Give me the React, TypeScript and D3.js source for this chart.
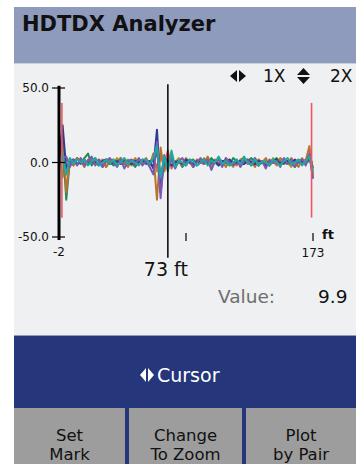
import React from 'react';
import * as d3 from 'd3';

const W = 356;
const H = 464;
const FONT = '"DejaVu Sans", Verdana, sans-serif';

// axis + labels
const yTicks = [50, 0, -50];
const yTickLabels = ['50.0', '0.0', '-50.0'];
const xTickFeet = [85.5, 173];
const xEndLabels = ['-2', '173'];
const cursorFeet = 73;
const cursorLabel = '73 ft';
const markerFeet = [0, 172];
const markerRange = [40, -37];
const valueLabel = 'Value:';
const valueText = '9.9';
const buttonLabels = [['Set', 'Mark'], ['Change', 'To Zoom'], ['Plot', 'by Pair']];

// sample grid in feet, one value per sample
const sampleFeet = d3.range(-2, 173.01, 2.5);

const olive = [12, -10, 3, 0, -2, 3, 1, -2, 0, 3, -1, 2, 0, -3, 1, 0, 3, -1, 0, 2, -2, 3, 0, -1, 2, 0, 4, -6, 3, 0, 2, -2, 0, 3, -1, 0, 2, -3, 1, 0, 3, 0, -2, 1, 0, -2, 3, 0, -3, 1, 0, 2, -1, 0, 3, -2, 0, 1, -2, 3, 0, -1, 2, 0, -3, 1, 0, 3, -1, 4, -3];
const red = [0, 2, -3, 1, 0, -1, 1, 0, -1, 1, 0, 1, -1, 0, 2, -1, 0, 1, -1, 0, 1, -1, 0, 1, 0, -1, 2, -3, 4, -2, 8, -4, 1, 0, -1, 1, 0, -1, 1, 0, -1, 1, 0, 2, -1, 0, 1, -1, 0, 1, 0, -1, 1, 0, -1, 2, 0, -1, 1, 0, -1, 1, 0, -1, 1, 0, 2, -1, 0, 1, 0];
const green = [2, 14, -25, 1, 0, 3, -1, 3, 6, -2, 1, 0, -3, 2, 1, -2, 0, 3, -1, 1, 0, -3, 1, 0, 2, -1, 2, 6, -8, 1, 0, 3, -1, 1, -3, 0, 1, 2, -2, 0, 1, -1, 3, 0, -2, 1, 0, -2, 3, 1, 0, -1, 1, 3, 0, -2, 1, 0, -2, 1, 3, 0, -1, 1, 0, -3, 1, 0, 2, 5, -10];
const brown = [4, 22, -20, 2, -2, 3, 1, -3, 2, 0, 3, -1, 2, -3, 1, 2, -2, 3, 0, -3, 1, 2, -1, 0, 3, -2, 6, -25, 10, -6, 2, 5, -3, 1, -2, 3, 0, -3, 2, 1, -1, 4, -2, 0, 2, 1, -3, 2, 0, -2, 2, 3, -1, 1, -3, 2, 0, 3, -2, 1, -2, 3, 1, -1, 3, 0, -3, 2, 1, 11, -8];
const navy = [0, 25, -5, 1, 2, -1, 0, 2, -1, 1, 0, -2, 1, 2, -1, 0, 1, -1, 2, 0, -1, 1, 0, 2, -1, 1, -4, 22, -20, 3, 1, -2, 0, 1, -1, 2, 0, -1, 1, 0, 2, -1, 0, 1, -2, 1, 0, 2, -1, 0, 1, -1, 2, 0, -1, 1, 0, -2, 1, 0, 2, -1, 0, 1, -1, 2, 0, 1, -1, 3, -4];
const purple = [1, 3, 4, -3, 2, -2, 3, -2, 1, 4, -2, 2, -3, 1, 3, 0, -3, 2, -4, 1, 2, -2, 3, -2, 1, -3, -8, 14, -24, 5, -3, 2, -4, 1, 3, -2, 2, -3, 0, 3, -1, 2, -5, 1, 2, -3, 3, 0, -2, 2, -3, 1, 2, -2, 3, -2, 1, -4, 2, 0, 1, -3, 3, -1, 2, -3, 1, 2, -2, 6, -11];
const teal = [0, 6, -8, 3, -1, 2, 0, 2, -2, 1, 3, -2, 0, 2, -1, 2, -2, 0, 3, -1, 1, 0, -2, 2, 2, -1, 3, 11, -10, 4, -6, 8, -3, 1, 0, -2, 2, 1, -2, 0, 2, -2, 1, 0, 4, -1, 1, -2, 0, 2, -1, 4, 0, -2, 2, -2, 1, 0, -2, 2, 0, -2, 1, 3, -1, 0, 2, -2, 1, 4, -6];

const traces = [
  { values: olive, color: '#a49a2c' },
  { values: red, color: '#e8545c' },
  { values: green, color: '#1f8a55' },
  { values: brown, color: '#b8742f' },
  { values: navy, color: '#2c3a92' },
  { values: purple, color: '#7b58b5' },
  { values: teal, color: '#1fa8a2' },
];

const x = d3.scaleLinear().domain([-2, 173]).range([59, 313]);
const y = d3.scaleLinear().domain([-50, 50]).range([237, 88]);

const line = d3.line<number>()
  .x((_, i) => x(sampleFeet[i]))
  .y(d => y(d));

const App = () => {
  const btnX = [14, 129, 246];
  const btnW = [111, 113, 110];
  return (
    <svg width={W} height={H} style={{ position: 'absolute', left: 0, top: 0 }} fontFamily={FONT}>
      <rect width={W} height={H} fill="#fff" />
      {/* header */}
      <rect x={14} y={7} width={W - 14} height={56} fill="#8e9bbd" />
      <text x={22} y={31} fontSize={21} fontWeight="bold" fill="#111">HDTDX Analyzer</text>
      {/* panel */}
      <rect x={14} y={63} width={W - 14} height={272} fill="#eef0f1" />
      <line x1={14} x2={W} y1={63.5} y2={63.5} stroke="#c9cfdc" />

      {/* zoom indicators */}
      <path d="M230,76 L237,70 L237,82 Z M239,70 L246,76 L239,82 Z" fill="#111" />
      <text x={263} y={82} fontSize={17} fill="#111">1X</text>
      <path d="M297,75 L303.5,68 L310,75 Z M297,77 L310,77 L303.5,84 Z" fill="#111" />
      <text x={330} y={82} fontSize={17} fill="#111">2X</text>

      {/* traces */}
      {traces.map((t, i) => (
        <path key={i} d={line(t.values) ?? ''} fill="none" stroke={t.color} strokeWidth={2} strokeLinejoin="round" />
      ))}
      {markerFeet.map((f, i) => (
        <line key={i} x1={x(f)} x2={x(f)} y1={y(markerRange[0])} y2={y(markerRange[1])} stroke="#ee5560" strokeWidth={1.6} />
      ))}

      {/* y axis */}
      <line x1={x(-2)} x2={x(-2)} y1={y(51.5)} y2={y(-52)} stroke="#000" strokeWidth={3} />
      {yTicks.map((t, i) => (
        <g key={t}>
          <line x1={52} x2={65} y1={y(t)} y2={y(t)} stroke="#000" strokeWidth={1.2} />
          <text x={49} y={y(t) + 4} fontSize={12} textAnchor="end" fill="#111">{yTickLabels[i]}</text>
        </g>
      ))}
      {/* x ticks */}
      {xTickFeet.map(f => (
        <line key={f} x1={x(f)} x2={x(f)} y1={233} y2={241} stroke="#000" strokeWidth={1.2} />
      ))}
      <text x={x(-2)} y={256} fontSize={12} textAnchor="middle" fill="#111">{xEndLabels[0]}</text>
      <text x={x(173)} y={257} fontSize={12} textAnchor="middle" fill="#111">{xEndLabels[1]}</text>
      <text x={x(173) + 9} y={239} fontSize={13} fontWeight="bold" fill="#111">ft</text>

      {/* cursor */}
      <line x1={x(cursorFeet)} x2={x(cursorFeet)} y1={y(52.5)} y2={y(-64)} stroke="#000" strokeWidth={1.5} />
      <text x={x(cursorFeet) - 2} y={276} fontSize={19} textAnchor="middle" fill="#111">{cursorLabel}</text>

      {/* value readout */}
      <text x={218} y={303} fontSize={18.5} fill="#6e6e6e">{valueLabel}</text>
      <text x={318} y={303} fontSize={18.5} fill="#111">{valueText}</text>

      {/* cursor band */}
      <rect x={14} y={335} width={W - 14} height={H - 335} fill="#26367a" />
      <line x1={14} x2={W} y1={335.5} y2={335.5} stroke="#8e9bbd" />
      <path d="M140,375 L146,368 L146,382 Z M148,368 L154,375 L148,382 Z" fill="#fff" />
      <text x={157} y={382} fontSize={19} fill="#fff">Cursor</text>

      {/* buttons */}
      {buttonLabels.map((lbl, i) => (
        <g key={i}>
          <rect x={btnX[i]} y={408} width={btnW[i]} height={H - 408} fill="#9d9d9d" />
          <text x={btnX[i] + btnW[i] / 2} y={441} fontSize={16.5} textAnchor="middle" fill="#111">{lbl[0]}</text>
          <text x={btnX[i] + btnW[i] / 2} y={460} fontSize={16.5} textAnchor="middle" fill="#111">{lbl[1]}</text>
        </g>
      ))}
    </svg>
  );
};

export default App;
